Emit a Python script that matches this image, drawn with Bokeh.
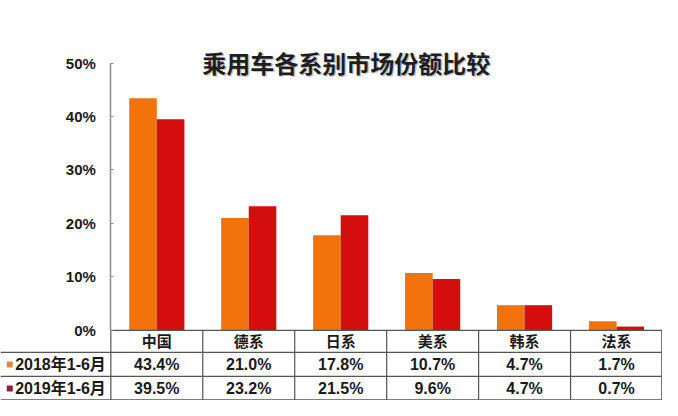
import numpy as np
from bokeh.plotting import figure
from bokeh.models import (Range1d, LinearAxis, FixedTicker, PrintfTickFormatter,
                          ColumnDataSource, Label)
from bokeh.transform import dodge
from bokeh.core.properties import value
from bokeh.embed import file_html
from bokeh.resources import INLINE

# ---------------- data ----------------
title_text = "乘用车各系别市场份额比较"
categories = ["中国", "德系", "日系", "美系", "韩系", "法系"]
series_names = ["2018年1-6月", "2019年1-6月"]
share_2018 = [43.4, 21.0, 17.8, 10.7, 4.7, 1.7]
share_2019 = [39.5, 23.2, 21.5, 9.6, 4.7, 0.7]
y_ticks = [0, 10, 20, 30, 40, 50]

# ---------------- style / layout ----------------
bar_colors = ["#F2720C", "#D40D0D"]
marker_colors = ["#D98A3E", "#8E1C3C"]
grid_color = "#555555"
axis_color = "#8c8c8c"
FONT = "Liberation Sans, Noto Sans CJK SC"

W, H = 662, 400
sx, sy = W / 678, H / 416            # reference-pixel -> figure-pixel scale
axis_px = 113 * sx                   # x of the value axis
zero_px = 343 * sy                   # y of 0%
top_px = 65 * sy                     # y of top tick
row_edges_px = [343 * sy, 366 * sy, 391 * sy, H]
n = len(categories)
ymax = y_ticks[-1]
band = (W - axis_px) / n
L = axis_px / band
ppu = (zero_px - top_px) / ymax
y_start = -(H - zero_px) / ppu
y_end = ymax + top_px / ppu
ry = [-(e - zero_px) / ppu for e in row_edges_px]     # row boundaries (data)
rc = [(ry[i] + ry[i + 1]) / 2 for i in range(3)]      # row centres (data)
bar_w = 0.3

p = figure(width=W, height=H, x_range=Range1d(-L, n), y_range=Range1d(y_start, y_end),
           output_backend="svg", toolbar_location=None,
           x_axis_location=None, y_axis_location=None, min_border=0)
p.outline_line_color = None
p.grid.grid_line_color = None
p.background_fill_color = "white"

yaxis = LinearAxis(fixed_location=0, bounds=(0, ymax),
                   ticker=FixedTicker(ticks=y_ticks),
                   formatter=PrintfTickFormatter(format="%d%%"))
yaxis.axis_line_color = axis_color
yaxis.axis_line_width = 1.5
yaxis.major_tick_in = 3
yaxis.major_tick_out = 0
yaxis.major_tick_line_color = axis_color
yaxis.minor_tick_line_color = None
yaxis.major_label_standoff = 15
yaxis.major_label_text_font = FONT
yaxis.major_label_text_font_size = "15px"
yaxis.major_label_text_font_style = "bold"
yaxis.major_label_text_color = "#1a1a1a"
p.add_layout(yaxis, "left")

xc = np.arange(n) + 0.5
src = ColumnDataSource(dict(x=xc, cat=categories, a=share_2018, b=share_2019,
                            ta=[f"{v:.1f}%" for v in share_2018],
                            tb=[f"{v:.1f}%" for v in share_2019]))

p.vbar(x=dodge("x", -bar_w / 2), top="a", bottom=0, width=bar_w, source=src,
       fill_color=bar_colors[0], line_color=None)
p.vbar(x=dodge("x", bar_w / 2), top="b", bottom=0, width=bar_w, source=src,
       fill_color=bar_colors[1], line_color=None)

# ---------------- table ----------------
hx0 = [0, -L, -L, -L]
hx1 = [n, n, n, n]
hy = [ry[0], ry[1], ry[2], ry[3] + 0.7 / ppu]
p.segment(x0=hx0, y0=hy, x1=hx1, y1=hy, line_color=grid_color, line_width=1.2)
vx = list(range(n)) + [n - 0.7 / band]
p.segment(x0=vx, y0=[ry[0]] * len(vx), x1=vx, y1=[ry[3]] * len(vx),
          line_color=grid_color, line_width=1.2)

common = dict(text_align="center", text_baseline="middle", text_font=value(FONT),
              text_font_style="bold", text_color="#1a1a1a")
p.text(x="x", y=rc[0], text="cat", source=src, text_font_size="15px", **common)
p.text(x="x", y=rc[1], text="ta", source=src, text_font_size="16px", **common)
p.text(x="x", y=rc[2], text="tb", source=src, text_font_size="16px", **common)

row_y = [rc[1], rc[2]]
p.scatter(x=[-L + 9.5 * sx / band] * 2, y=row_y, marker="square", size=6,
          fill_color=marker_colors, line_color=None)
p.text(x=[-L] * 2, y=row_y, text=series_names, x_offset=15 * sx, text_align="left",
       text_baseline="middle", text_font=value(FONT), text_font_size="16px",
       text_font_style="bold", text_color="#1a1a1a")

# ---------------- title ----------------
tx = (354 * sx - axis_px) / band
ty = ymax + (top_px - 64 * sy) / ppu
shadow = Label(x=tx, y=ty, x_offset=1.5, y_offset=-1.5, text=title_text,
               text_align="center", text_baseline="middle",
               text_font="Noto Sans CJK SC", text_font_size="24px",
               text_font_style="bold", text_color="#9a9a9a", text_alpha=0.6)
title = Label(x=tx, y=ty, text=title_text, text_align="center", text_baseline="middle",
              text_font="Noto Sans CJK SC", text_font_size="24px",
              text_font_style="bold", text_color="#1e1e1e")
p.add_layout(shadow)
p.add_layout(title)

open("out.html", "w").write(file_html(p, INLINE))
